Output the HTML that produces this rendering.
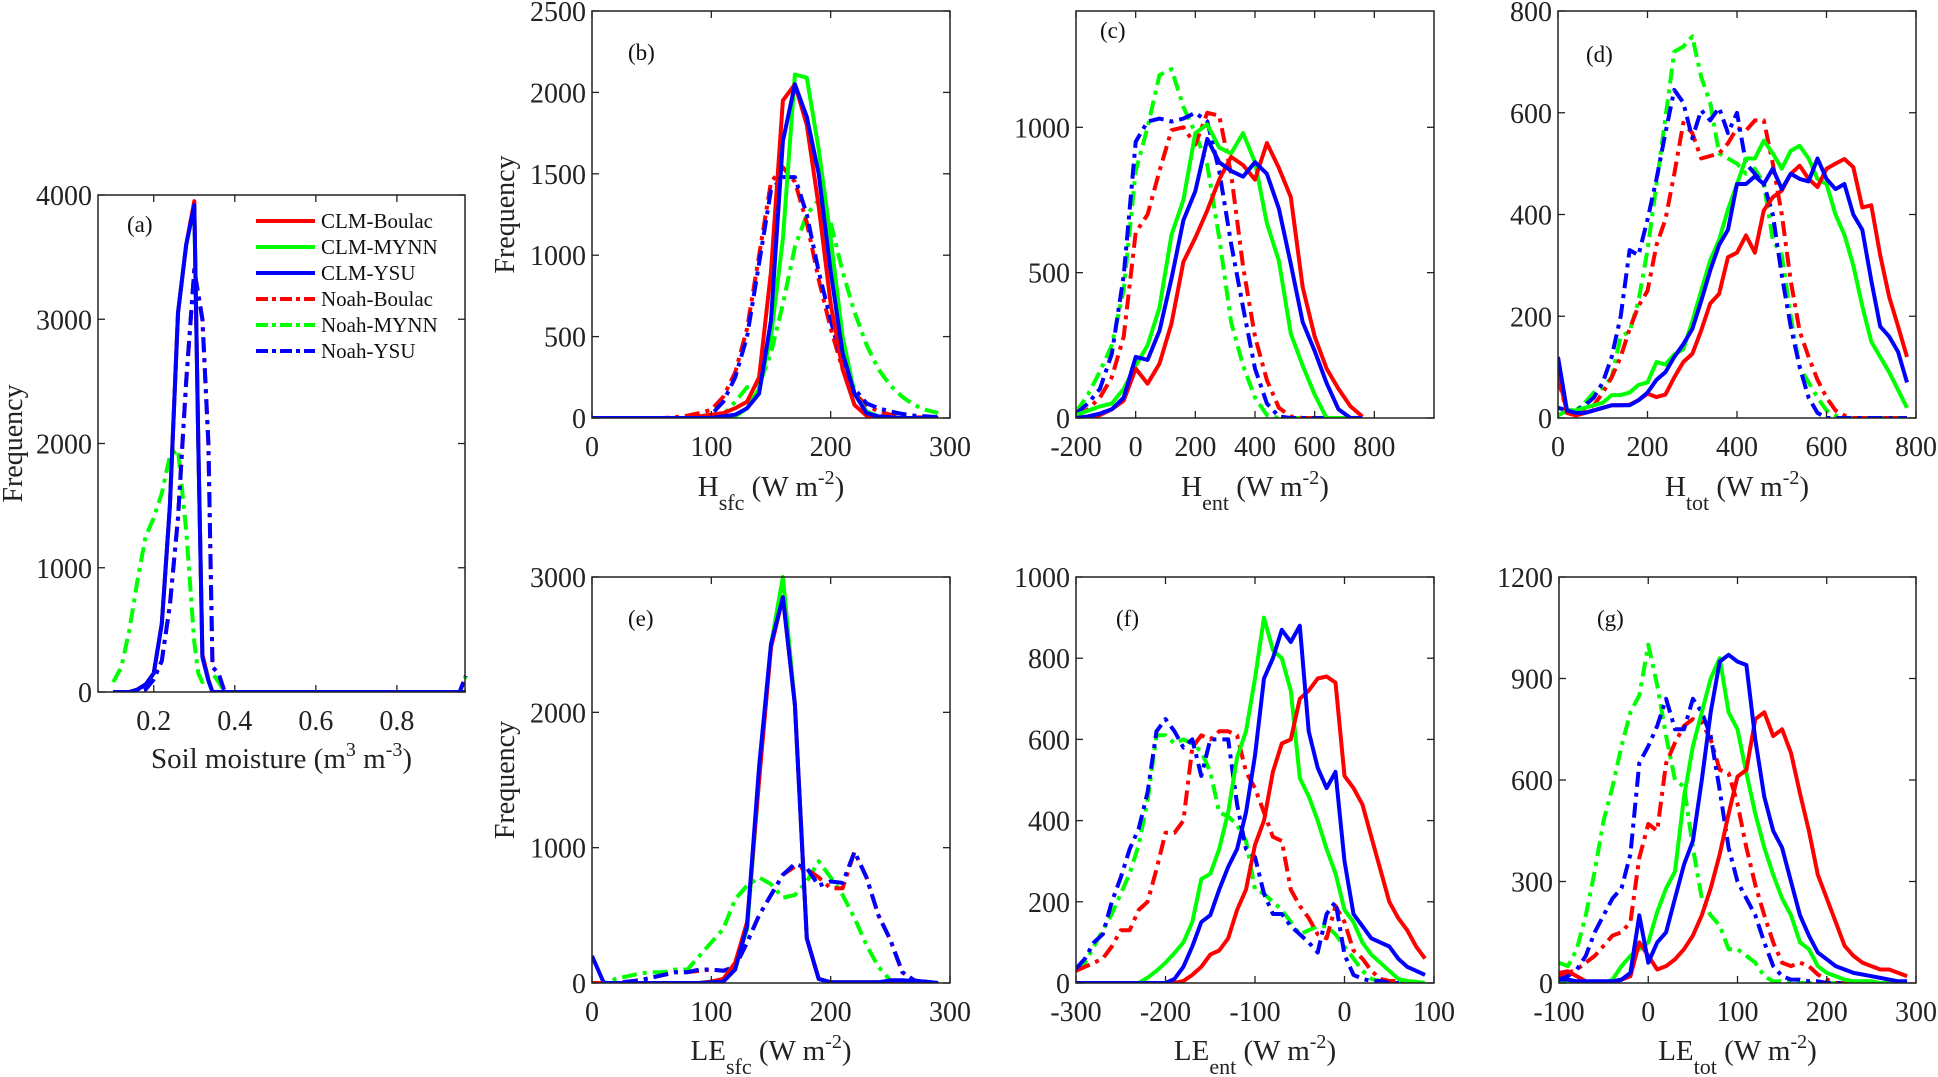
<!DOCTYPE html>
<html><head><meta charset="utf-8"><style>
html,body{margin:0;padding:0;background:#fff;}
svg{display:block;font-family:"Liberation Serif",serif;}
</style></head><body>
<svg id="fig" width="1938" height="1077" viewBox="0 0 1938 1077" xmlns="http://www.w3.org/2000/svg"></svg>
<script>
// ---------- data ----------
const seriesNames = ["CLM-Boulac","CLM-MYNN","CLM-YSU","Noah-Boulac","Noah-MYNN","Noah-YSU"];
// (a) soil moisture
const aX = [0.10,0.12,0.14,0.16,0.18,0.20,0.22,0.24,0.26,0.28,0.30,0.31,0.32,0.335,0.345,0.36,0.375,0.40,0.50,0.60,0.70,0.80,0.90,0.955,0.97];
const aClmBoulac = [0,0,0,20,60,150,550,1500,3050,3600,3950,2000,300,100,0,0,0,0,0,0,0,0,0,0,0];
const aClmMynn   = [0,0,0,20,60,150,550,1500,3050,3600,3900,2000,300,100,0,0,0,0,0,0,0,0,0,0,0];
const aClmYsu    = [0,0,0,20,60,150,550,1500,3050,3600,3920,2000,280,90,0,0,0,0,0,0,0,0,0,0,0];
const aNoahBoulac= [0,0,0,0,20,120,250,700,1400,2500,3400,3200,3000,2000,200,150,0,0,0,0,0,0,0,0,130];
const aNoahMynn  = [80,200,500,900,1250,1400,1600,1900,1950,1300,400,150,80,150,150,80,0,0,0,0,0,0,0,0,130];
const aNoahYsu   = [0,0,0,0,20,100,250,700,1400,2500,3400,3200,3000,2000,200,150,0,0,0,0,0,0,0,0,130];
// (b) H_sfc
const bX = [0,10,20,30,40,50,60,70,80,90,100,110,120,130,140,150,160,170,180,190,200,210,220,230,240,250,260,270,280,290];
const bClmBoulac = [0,0,0,0,0,0,0,0,0,10,20,30,60,100,250,900,1950,2050,1800,1300,700,300,80,15,5,0,0,0,0,0];
const bClmMynn   = [0,0,0,0,0,0,0,0,0,0,0,0,10,60,180,500,1100,2110,2090,1650,1100,500,150,40,10,5,0,0,0,0];
const bClmYsu    = [0,0,0,0,0,0,0,0,0,0,0,10,20,60,150,600,1700,2050,1850,1500,900,400,150,30,10,5,0,0,0,0];
const bNoahBoulac= [0,0,0,0,0,0,0,5,15,30,50,130,280,550,1000,1450,1540,1450,1200,850,550,300,150,80,40,20,10,5,3,2];
const bNoahMynn  = [0,0,0,0,0,0,0,0,0,0,0,20,100,190,200,400,700,1050,1250,1340,1200,900,650,450,300,200,130,80,50,30];
const bNoahYsu   = [0,0,0,0,0,0,0,0,0,0,20,100,250,500,950,1400,1480,1480,1250,900,600,330,180,90,60,40,25,15,10,5];
// (c) H_ent
const cX = [-200,-160,-120,-80,-40,0,40,80,120,160,200,240,280,320,360,400,440,480,520,560,600,640,680,720,760];
const cClmBoulac = [0,0,10,30,60,170,118,187,325,537,620,714,820,898,870,820,946,860,760,450,280,170,100,40,5];
const cClmMynn   = [10,25,40,50,100,180,250,380,630,750,980,1010,930,910,980,880,670,540,290,180,80,0,0,0,0];
const cClmYsu    = [0,5,15,30,70,210,200,300,480,680,780,960,880,850,830,880,840,720,530,330,230,120,30,0,0];
const cNoahBoulac= [5,30,70,140,280,638,700,850,990,1000,940,1050,1040,840,520,280,130,35,5,0,0,0,0,0,0];
const cNoahMynn  = [20,80,160,250,440,850,1000,1180,1200,1070,980,870,620,330,180,70,10,0,0,0,0,0,0,0,0];
const cNoahYsu   = [15,50,100,220,490,950,1020,1030,1020,1030,1050,1020,850,600,380,170,50,5,0,0,0,0,0,0,0];
// (d) H_tot
const dX = [0,20,40,60,80,100,120,140,160,180,200,220,240,260,280,300,320,340,360,380,400,420,440,460,480,500,520,540,560,580,600,620,640,660,680,700,720,740,760,780];
const dClmBoulac = [90,10,5,10,15,20,25,25,26,35,48,41,46,80,110,126,172,225,244,316,325,359,325,408,434,447,480,496,470,454,490,500,509,493,414,418,320,238,180,120];
const dClmMynn   = [5,15,15,20,25,30,45,45,50,65,70,110,105,125,135,190,250,310,350,410,460,510,510,545,520,490,525,535,510,470,460,400,360,300,220,150,120,90,55,20];
const dClmYsu    = [120,15,10,10,15,20,25,25,25,35,50,75,90,120,145,175,230,290,340,370,460,460,475,460,490,450,480,470,465,510,470,450,460,400,370,270,180,160,130,70];
const dNoahBoulac= [80,10,10,15,25,50,80,120,175,220,250,340,390,480,580,560,510,515,520,540,570,565,585,585,500,400,270,170,120,75,40,15,5,0,0,0,0,0,0,0];
const dNoahMynn  = [5,15,15,30,50,60,80,160,170,230,330,460,590,720,730,750,670,620,520,510,500,480,490,460,350,320,200,100,70,40,15,5,0,0,0,0,0,0,0,0];
const dNoahYsu   = [20,15,15,25,40,70,120,200,330,320,390,470,560,645,620,550,605,585,610,560,600,500,480,460,400,280,180,100,40,10,0,0,0,0,0,0,0,0,0,0];
// (e) LE_sfc
const eX = [0,10,20,30,40,50,60,70,80,90,100,110,120,130,140,150,160,170,180,190,200,210,220,230,240,250,260,270,280,290];
const eClmBoulac = [0,0,0,0,0,0,0,0,0,0,10,30,150,450,1500,2480,2850,2060,330,30,5,5,5,5,5,10,10,10,5,0];
const eClmMynn   = [0,0,0,0,0,0,0,0,0,0,10,30,130,400,1500,2500,3000,2060,330,30,5,5,5,5,5,10,10,10,5,0];
const eClmYsu    = [200,0,0,0,0,0,0,0,0,0,5,10,100,420,1600,2505,2850,2053,330,30,5,5,5,5,5,20,20,15,10,0];
const eNoahBoulac= [0,0,0,10,20,40,60,80,80,90,100,90,120,300,500,650,800,860,840,780,700,700,970,780,500,320,80,20,5,0];
const eNoahMynn  = [0,0,30,50,70,80,80,100,100,200,300,400,620,720,780,730,630,650,750,900,780,650,480,280,120,20,5,0,0,0];
const eNoahYsu   = [0,0,0,10,20,40,60,80,80,100,100,90,120,300,500,650,800,880,850,720,750,740,970,780,500,320,80,20,5,0];
// (f) LE_ent
const fX = [-300,-290,-280,-270,-260,-250,-240,-230,-220,-210,-200,-190,-180,-170,-160,-150,-140,-130,-120,-110,-100,-90,-80,-70,-60,-50,-40,-30,-20,-10,0,10,20,30,40,50,60,70,80,90];
const fClmBoulac = [0,0,0,0,0,0,0,0,0,0,0,0,5,20,40,70,80,110,180,230,340,400,520,590,600,700,720,750,755,740,510,480,440,360,280,200,160,130,90,60];
const fClmMynn   = [0,0,0,0,0,0,0,0,13,30,50,74,100,150,256,269,330,421,556,620,750,900,820,800,720,505,460,400,330,270,180,150,100,70,50,30,10,5,3,0];
const fClmYsu    = [0,0,0,0,0,0,0,0,0,0,0,10,40,90,150,167,230,286,330,420,560,750,800,870,840,880,620,530,480,520,300,170,140,110,100,90,60,40,30,20];
const fNoahBoulac= [30,40,50,60,90,130,130,180,200,280,370,370,400,580,610,600,620,620,610,520,480,420,360,350,230,190,160,120,110,190,150,80,60,30,10,5,5,0,0,0];
const fNoahMynn  = [30,50,90,130,170,220,270,340,450,610,610,590,600,590,570,520,420,410,390,350,230,220,200,180,150,120,130,140,140,120,90,60,30,10,5,0,0,0,0,0];
const fNoahYsu   = [35,60,100,120,200,260,330,380,470,620,650,620,580,600,510,600,600,600,440,330,310,220,170,170,140,120,100,75,170,200,70,20,10,5,5,0,0,0,0,0];
// (g) LE_tot
const gX = [-100,-90,-80,-70,-60,-50,-40,-30,-20,-10,0,10,20,30,40,50,60,70,80,90,100,110,120,130,140,150,160,170,180,190,200,210,220,230,240,250,260,270,280,290];
const gClmBoulac = [30,35,20,5,0,0,0,10,20,120,80,40,50,70,100,140,200,280,380,500,610,630,780,800,730,750,680,560,450,320,250,180,110,80,60,50,40,40,30,20];
const gClmMynn   = [0,0,0,0,0,0,10,50,80,100,120,210,280,330,550,700,800,900,960,800,750,620,500,400,320,250,200,120,100,50,30,20,10,5,5,5,0,0,0,0];
const gClmYsu    = [10,10,5,5,5,5,5,10,30,200,60,120,150,250,350,420,600,800,950,970,950,940,720,550,450,400,300,200,140,90,70,50,40,30,25,20,15,10,5,5];
const gNoahBoulac= [20,30,40,60,80,110,140,150,180,370,470,450,650,710,760,780,770,720,630,620,530,400,290,200,120,60,50,60,50,25,10,0,0,0,0,0,0,0,0,0];
const gNoahMynn  = [60,50,100,200,330,480,580,700,800,850,1000,880,730,600,580,400,250,200,170,100,100,80,60,20,5,5,0,0,0,0,0,0,0,0,0,0,0,0,0,0];
const gNoahYsu   = [10,20,40,80,150,200,250,280,380,650,700,760,840,750,750,840,800,730,570,400,300,250,200,120,50,20,10,10,5,5,0,0,0,0,0,0,0,0,0,0];
// tick labels
const aXTicks = [0.2,0.4,0.6,0.8], aYTicks = [0,1000,2000,3000,4000];
const bXTicks = [0,100,200,300], bYTicks = [0,500,1000,1500,2000,2500];
const cXTicks = [-200,0,200,400,600,800], cYTicks = [0,500,1000];
const dXTicks = [0,200,400,600,800], dYTicks = [0,200,400,600,800];
const eXTicks = [0,100,200,300], eYTicks = [0,1000,2000,3000];
const fXTicks = [-300,-200,-100,0,100], fYTicks = [0,200,400,600,800,1000];
const gXTicks = [-100,0,100,200,300], gYTicks = [0,300,600,900,1200];
</script>
<script>
const NS="http://www.w3.org/2000/svg";
const svg=document.getElementById('fig');
const colors=["#ff0000","#00ff00","#0000ff","#ff0000","#00ff00","#0000ff"];
const dashes=[null,null,null,"15,6,4,6","15,6,4,6","15,6,4,6"];
const drawOrder=[4,3,5,1,0,2];
function mk(tag,attrs,parent){const e=document.createElementNS(NS,tag);for(const k in attrs)e.setAttribute(k,attrs[k]);(parent||svg).appendChild(e);return e;}
function panel(id,box,xr,yr,xTicks,yTicks,xs,ser,xlab,ylab,label,labelPos,xTickFmt){
  const [L,T,R,B]=box;
  const g=mk('g',{});
  
  
  const sx=v=>L+(v-xr[0])/(xr[1]-xr[0])*(R-L);
  const sy=v=>B-(v-yr[0])/(yr[1]-yr[0])*(B-T);
  const clip=mk('clipPath',{id:'clip-'+id},g);mk('rect',{x:L,y:T-3,width:R-L+3,height:B-T+3},clip);
  const lg=mk('g',{'clip-path':'url(#clip-'+id+')'},g);
  drawOrder.forEach(si=>{
    const pts=xs.map((x,i)=>sx(x).toFixed(1)+','+sy(ser[si][i]).toFixed(1)).join(' ');
    const p=mk('polyline',{points:pts,fill:'none',stroke:colors[si],'stroke-width':4,'stroke-linejoin':'round'},lg);
    if(dashes[si])p.setAttribute('stroke-dasharray',dashes[si]);
    
    
  });
  const ax=mk('rect',{x:L,y:T,width:R-L,height:B-T,fill:'none',stroke:'#222','stroke-width':1.5},g);
  
  
  xTicks.forEach(v=>{const x=sx(v);
    mk('line',{x1:x,y1:B,x2:x,y2:B-7,stroke:'#222','stroke-width':1.3},g);
    mk('line',{x1:x,y1:T,x2:x,y2:T+7,stroke:'#222','stroke-width':1.3},g);
    const t=mk('text',{x:x,y:B+38,'font-size':28,'text-anchor':'middle',fill:'#222'},g);
    t.textContent=xTickFmt?xTickFmt(v):String(v);
    
    
  });
  yTicks.forEach(v=>{const y=sy(v);
    mk('line',{x1:L,y1:y,x2:L+7,y2:y,stroke:'#222','stroke-width':1.3},g);
    mk('line',{x1:R,y1:y,x2:R-7,y2:y,stroke:'#222','stroke-width':1.3},g);
    const t=mk('text',{x:L-6,y:y+10,'font-size':28,'text-anchor':'end',fill:'#222'},g);
    t.textContent=String(v);
    
    
  });
  const pl=mk('text',{x:labelPos[0],y:labelPos[1],'font-size':23,fill:'#111'},g);
  pl.textContent=label;
  
  
  const xl=mk('text',{x:(L+R)/2,y:xlab.y,'font-size':29,'text-anchor':'middle',fill:'#222'},g);
  xl.innerHTML=xlab.html;
  
  
  if(ylab){const yl=mk('text',{x:ylab,y:(T+B)/2,'font-size':28,'text-anchor':'middle',fill:'#222',transform:'rotate(-90 '+ylab+' '+(T+B)/2+')'},g);
    yl.textContent='Frequency';
    
    }
}
const sub=(a,s)=>a+'<tspan font-size="22" dy="14">'+s+'</tspan><tspan dy="-14"> (W m</tspan><tspan font-size="20" dy="-12">-2</tspan><tspan dy="12">)</tspan>';
panel('a',[98,195,465,692],[0.0625,0.968],[0,4000],aXTicks,aYTicks,aX,[aClmBoulac,aClmMynn,aClmYsu,aNoahBoulac,aNoahMynn,aNoahYsu],
  {y:768,html:'Soil moisture (m<tspan font-size="20" dy="-12">3</tspan><tspan dy="12"> m</tspan><tspan font-size="20" dy="-12">-3</tspan><tspan dy="12">)</tspan>'},22,'(a)',[127,232],v=>v.toFixed(1));
panel('b',[592,11,950,418],[0,300],[0,2500],bXTicks,bYTicks,bX,[bClmBoulac,bClmMynn,bClmYsu,bNoahBoulac,bNoahMynn,bNoahYsu],{y:496,html:sub('H','sfc')},514,'(b)',[628,60]);
panel('c',[1076,11,1434,418],[-200,1000],[0,1400],cXTicks,cYTicks,cX,[cClmBoulac,cClmMynn,cClmYsu,cNoahBoulac,cNoahMynn,cNoahYsu],{y:496,html:sub('H','ent')},null,'(c)',[1100,38]);
panel('d',[1558,11,1916,418],[0,800],[0,800],dXTicks,dYTicks,dX,[dClmBoulac,dClmMynn,dClmYsu,dNoahBoulac,dNoahMynn,dNoahYsu],{y:496,html:sub('H','tot')},null,'(d)',[1586,62]);
panel('e',[592,577,950,983],[0,300],[0,3000],eXTicks,eYTicks,eX,[eClmBoulac,eClmMynn,eClmYsu,eNoahBoulac,eNoahMynn,eNoahYsu],{y:1060,html:sub('LE','sfc')},514,'(e)',[628,626]);
panel('f',[1076,577,1434,983],[-300,100],[0,1000],fXTicks,fYTicks,fX,[fClmBoulac,fClmMynn,fClmYsu,fNoahBoulac,fNoahMynn,fNoahYsu],{y:1060,html:sub('LE','ent')},null,'(f)',[1116,626]);
panel('g',[1559,577,1916,983],[-100,300],[0,1200],gXTicks,gYTicks,gX,[gClmBoulac,gClmMynn,gClmYsu,gNoahBoulac,gNoahMynn,gNoahYsu],{y:1060,html:sub('LE','tot')},null,'(g)',[1597,626]);
// legend
const leg=mk('g',{});


seriesNames.forEach((n,i)=>{
  const y=221+i*26;
  const ln=mk('line',{x1:256,y1:y,x2:315,y2:y,stroke:colors[i],'stroke-width':4},leg);
  if(dashes[i])ln.setAttribute('stroke-dasharray','12,4,4,4');
  const t=mk('text',{x:321,y:y+7,'font-size':21,fill:'#111'},leg);
  t.textContent=n;
  
  
});
</script>
</body></html>
